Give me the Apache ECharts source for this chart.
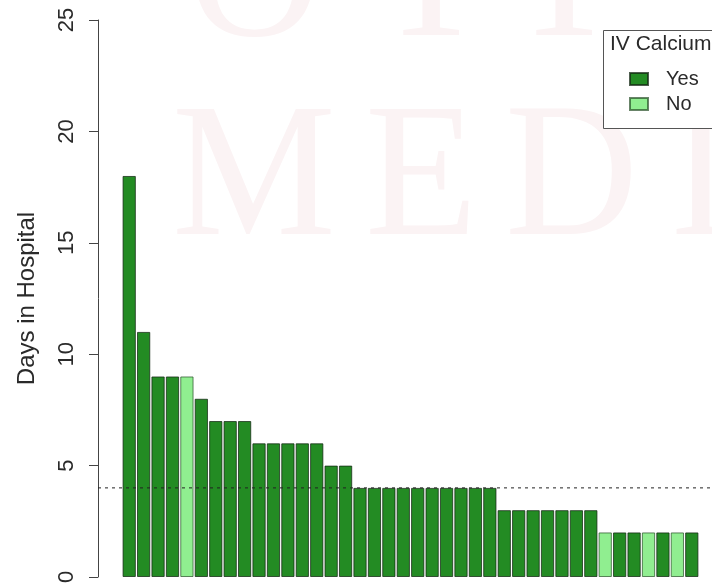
<!DOCTYPE html>
<html>
<head>
<meta charset="utf-8">
<script src="https://cdn.jsdelivr.net/npm/echarts@6/dist/echarts.min.js"></script>
<style>
html,body{margin:0;padding:0;background:#fff;}
#chart{width:712px;height:587px;}
</style>
</head>
<body>
<div id="chart"></div>
<script>
// Data
var patients = ['P1','P2','P3','P4','P5','P6','P7','P8','P9','P10','P11','P12','P13','P14','P15','P16','P17','P18','P19','P20','P21','P22','P23','P24','P25','P26','P27','P28','P29','P30','P31','P32','P33','P34','P35','P36','P37','P38','P39','P40'];
var daysInHospital = [18,11,9,9,9,8,7,7,7,6,6,6,6,6,5,5,4,4,4,4,4,4,4,4,4,4,3,3,3,3,3,3,3,2,2,2,2,2,2,2];
var ivCalcium = ['Yes','Yes','Yes','Yes','No','Yes','Yes','Yes','Yes','Yes','Yes','Yes','Yes','Yes','Yes','Yes','Yes','Yes','Yes','Yes','Yes','Yes','Yes','Yes','Yes','Yes','Yes','Yes','Yes','Yes','Yes','Yes','Yes','No','Yes','Yes','No','Yes','No','Yes'];
var referenceDays = 4;
var yTicks = [0,5,10,15,20,25];

var yesData = daysInHospital.map(function(v,i){ return ivCalcium[i]==='Yes' ? v : '-'; });
var noData = daysInHospital.map(function(v,i){ return ivCalcium[i]==='No' ? v : '-'; });

var FONT = 'Liberation Sans, Arial, Helvetica, sans-serif';
var WM = '190px "Liberation Serif", serif';
var WMC = '#fbf3f4';
function wm(t, x, y){
  return {type:'text', z:-10, silent:true, x:x, y:y, scaleX:0.97,
    style:{text:t, font:WM, fill:WMC, verticalAlign:'middle', align:'left'}};
}
var chart = echarts.init(document.getElementById('chart'), null, {renderer:'canvas'});
chart.setOption({
  animation:false,
  backgroundColor:'#ffffff',
  graphic:[
    wm('M',172,184), wm('E',365,184), wm('D',505,184), wm('I',670,184),
    wm('O',188,-15), wm('T',375,-15), wm('T',508,-15),
    {type:'rect', z:10, shape:{x:603.5,y:30.5,width:130,height:98}, style:{fill:'#ffffff', stroke:'#555', lineWidth:1}},
    {type:'text', z:11, x:610, y:44, style:{text:'IV Calcium', font:'21px '+FONT, fill:'#2a2a2a', verticalAlign:'middle'}}
  ],
  legend:{
    data:['Yes','No'], orient:'vertical', left:629, top:69, itemWidth:18, itemHeight:12, itemGap:5,
    padding:0, z:12, icon:'rect',
    textStyle:{fontFamily:FONT, fontSize:20, color:'#2a2a2a', padding:[0,0,0,13]}
  },
  grid:[
    {left:122, right:13, top:20, bottom:10, containLabel:false},
    {left:98, right:0, top:20, bottom:10, containLabel:false}
  ],
  xAxis:[
    {type:'category', gridIndex:0, data:patients, show:false},
    {type:'value', gridIndex:1, min:0, max:1, show:false}
  ],
  yAxis:[
    {type:'value', gridIndex:0, min:yTicks[0], max:yTicks[yTicks.length-1], interval:5, offset:24,
     name:'Days in Hospital', nameLocation:'middle', nameGap:59,
     nameTextStyle:{fontFamily:FONT, fontSize:24, color:'#2a2a2a'},
     axisLine:{show:true, lineStyle:{color:'#444', width:1}},
     axisTick:{show:true, length:9, lineStyle:{color:'#444'}},
     axisLabel:{rotate:90, fontFamily:FONT, fontSize:22, color:'#2a2a2a', margin:20},
     splitLine:{show:false}},
    {type:'value', gridIndex:1, min:0, max:25, show:false}
  ],
  series:[
    {name:'Yes', type:'bar', xAxisIndex:0, yAxisIndex:0, stack:'s', data:yesData, barCategoryGap:'8%',
     itemStyle:{color:'#238b23', borderColor:'rgba(20,40,20,0.75)', borderWidth:1}},
    {name:'No', type:'bar', xAxisIndex:0, yAxisIndex:0, stack:'s', data:noData, barCategoryGap:'8%',
     itemStyle:{color:'#90ee90', borderColor:'rgba(40,80,40,0.7)', borderWidth:1}},
    {name:'ref', type:'line', xAxisIndex:1, yAxisIndex:1, data:[[0,referenceDays],[1,referenceDays]],
     symbol:'none', silent:true, z:5,
     lineStyle:{color:'#222', width:1, type:[3,4]}}
  ]
});
</script>
</body>
</html>
